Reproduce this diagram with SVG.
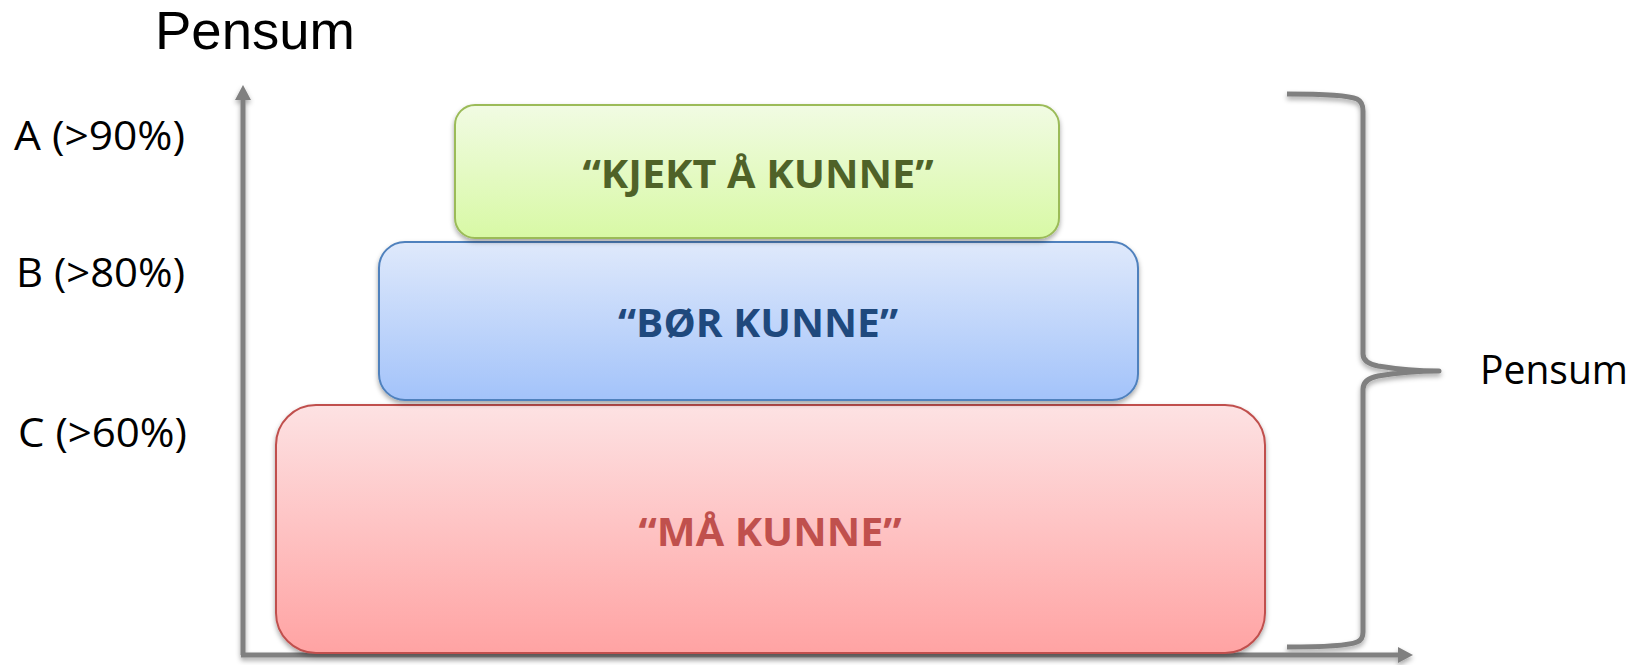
<svg xmlns="http://www.w3.org/2000/svg" width="1648" height="665" viewBox="0 0 1648 665">
  <style>
    .label { font-family: "Open Sans", "Liberation Sans", sans-serif; font-size: 40px; fill: #000000; }
    .title { font-family: "Liberation Sans", "Open Sans", sans-serif; font-size: 53px; fill: #000000; }
    .boxtext { font-family: "Open Sans", "Liberation Sans", sans-serif; font-size: 40px; font-weight: 700; text-anchor: middle; }
    .axis { fill: none; stroke: #808080; stroke-width: 5; }
    .brace { fill: none; stroke: #808080; stroke-width: 5; stroke-linecap: butt; stroke-linejoin: round; }
    .box { stroke-width: 2; }
  </style>
  <defs>
    <marker id="arrow" markerUnits="userSpaceOnUse" markerWidth="15" markerHeight="16" refX="1" refY="8" orient="auto" viewBox="0 0 15 16">
      <path d="M0,0 L15,8 L0,16 z" fill="#808080"/>
    </marker>
    <linearGradient id="gGreen" x1="0" y1="0" x2="0" y2="1">
      <stop offset="0" stop-color="#F1FBE3"/>
      <stop offset="1" stop-color="#D8F9A5"/>
    </linearGradient>
    <linearGradient id="gBlue" x1="0" y1="0" x2="0" y2="1">
      <stop offset="0" stop-color="#DFE9FB"/>
      <stop offset="1" stop-color="#A3C3FA"/>
    </linearGradient>
    <linearGradient id="gRed" x1="0" y1="0" x2="0" y2="1">
      <stop offset="0" stop-color="#FDE2E3"/>
      <stop offset="1" stop-color="#FFA3A3"/>
    </linearGradient>
    <filter id="shadow" x="-5%" y="-10%" width="110%" height="125%">
      <feDropShadow dx="0" dy="3" stdDeviation="2.5" flood-color="#000000" flood-opacity="0.35"/>
    </filter>
  </defs>

  <!-- titles and grade labels -->
  <text id="title" class="title" x="155" y="49" textLength="200" lengthAdjust="spacingAndGlyphs">Pensum</text>
  <g id="grade-a"><text class="label" x="14" y="150" textLength="171" lengthAdjust="spacingAndGlyphs">A (&gt;90%)</text></g>
  <g id="grade-b"><text class="label" x="16" y="287" textLength="169" lengthAdjust="spacingAndGlyphs">B (&gt;80%)</text></g>
  <g id="grade-c"><text class="label" x="18" y="447" textLength="169" lengthAdjust="spacingAndGlyphs">C (&gt;60%)</text></g>

  <!-- axes, brace and its label -->
  <g id="connectors" filter="url(#shadow)">
    <path class="axis" d="M243,655 L243,99" marker-end="url(#arrow)"/>
    <path class="axis" d="M241,655 L1399,655" marker-end="url(#arrow)"/>
    <path class="brace" d="M1287,94 C1328,94 1350,96 1357,99 Q1363,102 1363,111 L1363,354 Q1363,363 1378,366 C1396,369 1420,371 1439,371 C1420,371 1396,373 1378,376 Q1363,379 1363,389 L1363,632 Q1363,640 1357,642 C1350,645 1328,647 1287,647"/>
  </g>
  <g id="pensum-label"><text class="label" x="1480" y="384" font-size="39" textLength="148" lengthAdjust="spacingAndGlyphs">Pensum</text></g>

  <!-- the three levels, widest at the bottom -->
  <g id="maa-kunne">
    <rect class="box" x="276" y="405" width="989" height="248" rx="40" fill="url(#gRed)" stroke="#C0504D" filter="url(#shadow)"/>
    <text class="boxtext" x="770" y="546" fill="#C0504D" textLength="263" lengthAdjust="spacingAndGlyphs">“MÅ KUNNE”</text>
  </g>
  <g id="boer-kunne">
    <rect class="box" x="379" y="242" width="759" height="158" rx="26" fill="url(#gBlue)" stroke="#4F81BD" filter="url(#shadow)"/>
    <text class="boxtext" x="758" y="337" fill="#1F497D" textLength="280" lengthAdjust="spacingAndGlyphs">“BØR KUNNE”</text>
  </g>
  <g id="kjekt-aa-kunne">
    <rect class="box" x="455" y="105" width="604" height="133" rx="20" fill="url(#gGreen)" stroke="#9BBB59" filter="url(#shadow)"/>
    <text class="boxtext" x="758" y="188" fill="#4F6228" textLength="351" lengthAdjust="spacingAndGlyphs">“KJEKT Å KUNNE”</text>
  </g>
</svg>
